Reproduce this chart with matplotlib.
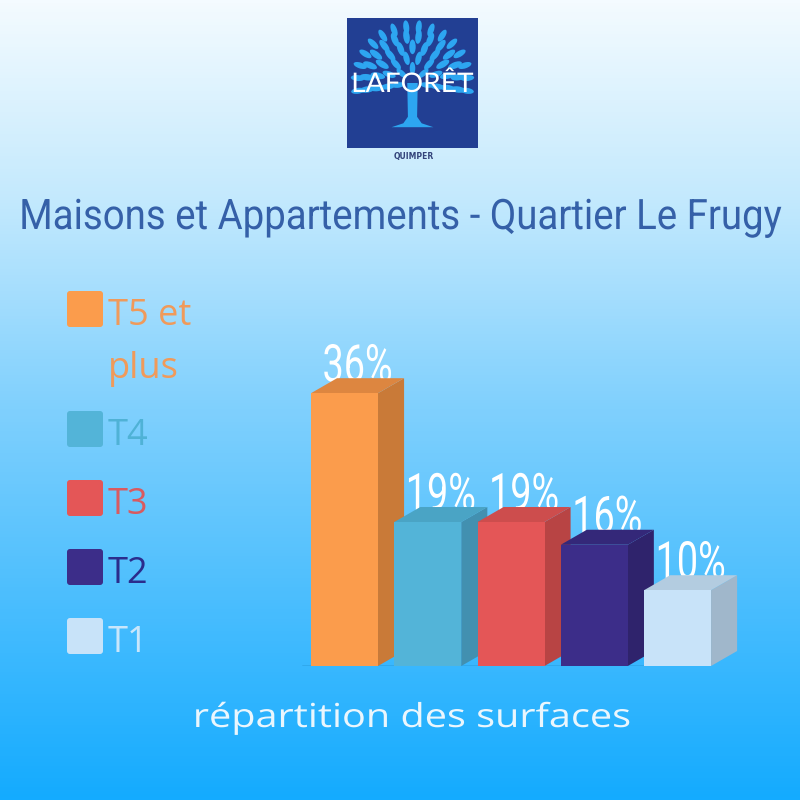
import numpy as np
import matplotlib
matplotlib.use("Agg")
import matplotlib.pyplot as plt
from matplotlib.colors import LinearSegmentedColormap
from matplotlib.patches import Polygon, FancyBboxPatch, Ellipse
from matplotlib.patheffects import AbstractPathEffect
from matplotlib.transforms import Affine2D

# ---------------- data ----------------
categories = ["T5 et\nplus", "T4", "T3", "T2", "T1"]
values = [36, 19, 19, 16, 10]
front_colors = ["#fb9c4c", "#53b4d8", "#e45657", "#3c2d89", "#c8e3f9"]
side_colors = ["#c97a38", "#4290b0", "#b84444", "#2f236c", "#a0b7cb"]
top_colors = ["#dd8640", "#4aa4c5", "#cd4d4d", "#342879", "#b3cce0"]
legend_text_colors = ["#f09a5a", "#4fb2d6", "#d95a60", "#2b2c8c", "#c9e6fb"]
title = "Maisons et Appartements - Quartier Le Frugy"
subtitle = "répartition des surfaces"

W, H = 800, 800
DPI = 100
fig = plt.figure(figsize=(8, 8), dpi=DPI)
renderer = fig.canvas.get_renderer()


class Stretch(AbstractPathEffect):
    """Scale the glyphs of a text about a fixed display point."""

    def __init__(self, sx, sy, cx, cy):
        super().__init__()
        self.t = Affine2D().translate(-cx, -cy).scale(sx, sy).translate(cx, cy)

    def draw_path(self, renderer, gc, tpath, affine, rgbFace=None):
        renderer.draw_path(gc, tpath, affine + self.t, rgbFace)


# ---------------- background gradient ----------------
bg = fig.add_axes([0, 0, 1, 1])
cmap = LinearSegmentedColormap.from_list(
    "bg", [(0, "#f4fbff"), (0.25, "#c3e9fd"), (0.5, "#82d1fd"),
           (0.75, "#4bbefe"), (1.0, "#14abff")])
grad = np.linspace(0, 1, 256).reshape(-1, 1)
bg.imshow(grad, aspect="auto", cmap=cmap, extent=[0, W, H, 0])
bg.set_xlim(0, W)
bg.set_ylim(H, 0)
bg.axis("off")

# ---------------- logo ----------------
lg = fig.add_axes([347 / W, 1 - 148 / H, 131 / W, 130 / H])
lg.set_xlim(0, 1)
lg.set_ylim(0, 1)
lg.set_facecolor("#223f93")
for s in lg.spines.values():
    s.set_visible(False)
lg.set_xticks([])
lg.set_yticks([])
leaf = "#2da6f1"
lg.add_patch(Polygon([[0.46, 0.50], [0.54, 0.50], [0.535, 0.24], [0.57, 0.19],
                      [0.66, 0.16], [0.34, 0.16], [0.43, 0.19], [0.465, 0.24]],
                     closed=True, fc=leaf, ec="none"))
cx, cy = 0.5, 0.50
for r, n, sz in [(0.11, 5, 0.065), (0.19, 8, 0.07), (0.27, 11, 0.075),
                 (0.35, 14, 0.075), (0.42, 16, 0.07)]:
    for ang in np.linspace(-8, 188, n):
        a = np.deg2rad(ang)
        lg.add_patch(Ellipse((cx + r * np.cos(a), cy + r * np.sin(a) * 1.03),
                             sz * 0.65, sz * 1.5, angle=ang - 90, fc=leaf, ec="none"))

# ---------------- overlay (pixel coords) ----------------
ov = fig.add_axes([0, 0, 1, 1], facecolor="none")
ov.set_xlim(0, W)
ov.set_ylim(H, 0)
ov.axis("off")


def stext(x, y, s, target_w, em_px, family, color, weight="normal", z=30,
          fontsize=None, sx=1.0):
    """Real text, baseline at pixel y; sized to target width, glyphs stretched
    vertically so that the em height equals em_px."""
    t = ov.text(x, y, s, ha="center", va="baseline", fontsize=20, color=color,
                family=family, fontweight=weight, zorder=z)
    if fontsize is None:
        wid = t.get_window_extent(renderer).width
        fontsize = 20 * target_w / wid
    t.set_fontsize(fontsize)
    sy = em_px / (fontsize * DPI / 72)
    dxp, dyp = t.get_transform().transform((x, y))
    t.set_path_effects([Stretch(sx, sy, dxp, dyp)])
    return fontsize


stext(400, 229, title, 760, 42, ["Roboto", "DejaVu Sans"], "#3560a8")
stext(412, 727, subtitle, 437, 33, ["Open Sans", "DejaVu Sans"], "#eaf6fd")
stext(412.5, 92, "LAFORÊT", 122, 27, ["Lato", "DejaVu Sans"], "white")
ov.text(414, 157, "QUIMPER", ha="center", va="center", fontsize=5.5,
        color="#33437a", fontweight="bold")

# legend
leg_y = [309, 429, 498, 567, 636]
for lab, fc, tc, y in zip(categories, front_colors, legend_text_colors, leg_y):
    ov.add_patch(FancyBboxPatch((67 + 3, y - 18 + 3), 36 - 6, 36 - 6,
                                boxstyle="round,pad=3", fc=fc, ec="none"))
    ov.text(108, y - 11, lab, ha="left", va="top", fontsize=26, color=tc,
            family=["Open Sans", "DejaVu Sans"], linespacing=1.62)

# ---------------- 3D bars ----------------
ax = fig.add_axes([294.55 / W, 134 / H, 449.6 / W, 341 / H], facecolor="none")
ax.set_xlim(-0.6, 4.8)
ax.set_ylim(0, 45)
ax.axis("off")

w = 0.805
dx, dy = 0.313, 1.98
ax.plot([-0.5, 4.3, 4.62], [0, 0, dy * 0.8], color="#2a9fe0", lw=0.8, zorder=1)
to_ov = ax.transData + ov.transData.inverted()
label_fs = None
for i, (v, fc, sc, tc) in enumerate(zip(values, front_colors, side_colors, top_colors)):
    x1 = i + w / 2
    x0 = i - w / 2
    ax.add_patch(Polygon([[x1, 0], [x1 + dx, dy], [x1 + dx, v + dy], [x1, v]],
                         closed=True, fc=sc, ec="none", zorder=2 + 2 * i))
    ax.add_patch(Polygon([[x0, v], [x1, v], [x1 + dx, v + dy], [x0 + dx, v + dy]],
                         closed=True, fc=tc, ec="none", zorder=2 + 2 * i))
    ax.bar(i, v, width=w, color=fc, zorder=3 + 2 * i)
    px, py = to_ov.transform((i + dx / 2, v + 1.55))
    label_fs = stext(px, py, f"{v}%", 70, 52, ["Roboto", "DejaVu Sans"],
                     "white", fontsize=label_fs)

fig.savefig("out.png", dpi=DPI)
